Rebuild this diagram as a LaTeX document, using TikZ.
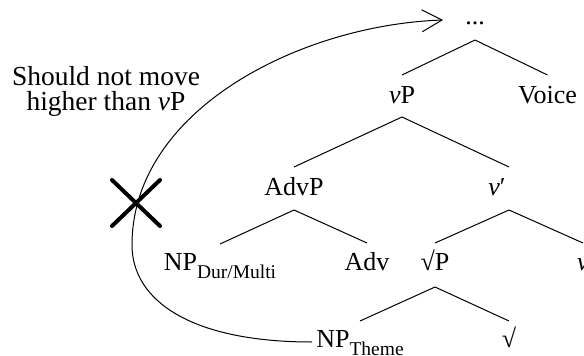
\documentclass[tikz,border=0pt]{standalone}
\usepackage{fontspec}
\setmainfont{Liberation Serif}
\usetikzlibrary{arrows.meta}
\newcommand\tsub[1]{\raisebox{-8pt}{\fontsize{19.5}{20}\selectfont #1}}
\begin{document}
\begin{tikzpicture}[x=1pt,y=-1pt,
  lbl/.style={anchor=base,inner sep=4pt,font=\fontsize{26}{30}\selectfont},
  note/.style={anchor=base,inner sep=0pt,font=\fontsize{27.5}{30}\selectfont},
  edge/.style={line width=1pt},
  move/.style={line width=1pt,-{Straight Barb[length=20pt,width=22pt,line width=1pt]}},
  cross/.style={line width=4pt,line cap=round}]
\useasboundingbox (0,0) rectangle (584,356);
% tree nodes
\node[lbl] (dots)  at (475,24)  {...};
\node[lbl] (vP)    at (402,103) {\textit{v}P};
\node[lbl] (voice) at (547.5,103) {Voice};
\node[lbl] (advp)  at (294,195) {AdvP};
\node[lbl] (vbar)  at (497,195) {\textit{v}′};
\node[lbl] (npdur) at (220,270) {NP\tsub{Dur/Multi}};
\node[lbl] (adv)   at (367,270) {Adv};
\node[lbl] (rootp) at (435,270) {√P};
\node[lbl] (vhead) at (583,270) {\textit{v}};
\node[lbl] (theme) at (360,347) {NP\tsub{Theme}};
\node[lbl] (root)  at (509,347) {√};
% annotation
\node[note] (annot1) at (106,85)  {Should not move};
\node[note] (annot2) at (106,110) {higher than \textit{v}P};
% tree edges
\draw[edge] ([yshift=-16pt]dots.base) -- ([yshift=28pt]vP.base);
\draw[edge] ([yshift=-16pt]dots.base) -- ([yshift=28pt]voice.base);
\draw[edge] ([yshift=-14pt]vP.base) -- ([yshift=28pt]advp.base);
\draw[edge] ([yshift=-14pt]vP.base) -- ([xshift=12pt,yshift=28pt]vbar.base);
\draw[edge] ([yshift=-15pt]advp.base) -- ([yshift=26pt]npdur.base);
\draw[edge] ([yshift=-15pt]advp.base) -- ([yshift=27pt]adv.base);
\draw[edge] ([xshift=12pt,yshift=-15pt]vbar.base) -- ([yshift=27pt]rootp.base);
\draw[edge] ([xshift=12pt,yshift=-15pt]vbar.base) -- ([yshift=27pt]vhead.base);
\draw[edge] ([yshift=-17pt]rootp.base) -- ([yshift=26pt]theme.base);
\draw[edge] ([yshift=-17pt]rootp.base) -- ([yshift=26pt]root.base);
% movement arrow
\coordinate (mvend) at (443,20);
\draw[move] ([yshift=5pt]theme.base west) .. controls (190,342) and (132,300) .. (132,245)
  .. controls (132,110) and (300,25) .. (mvend);
% cross
\coordinate (xmark) at (136,203);
\draw[cross] ([shift={(-24,-23)}]xmark) -- ([shift={(24,23)}]xmark);
\draw[cross] ([shift={(-24,23)}]xmark) -- ([shift={(24,-23)}]xmark);
\end{tikzpicture}
\end{document}
